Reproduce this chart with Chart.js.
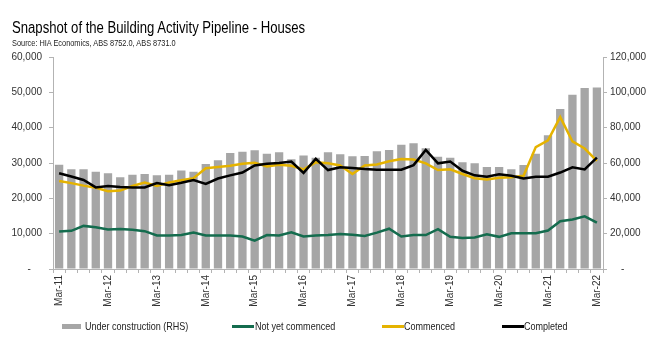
<!DOCTYPE html>
<html>
<head>
<meta charset="utf-8">
<script src="https://cdn.jsdelivr.net/npm/chart.js@4/dist/chart.umd.min.js"></script>
<style>
  html, body { margin: 0; padding: 0; background: #fff; }
  #wrap {
    position: relative; width: 660px; height: 348px; overflow: hidden;
    font-family: "Liberation Sans", Arial, sans-serif;
    color: #000;
  }
  #chart { position: absolute; left: 0; top: 0; }
  .txt, .leg { position: absolute; white-space: nowrap; transform: scaleX(0.82); transform-origin: 0 50%; }
  #title { left: 12px; top: 18px; font-size: 16px; line-height: 20px; }
  #source { left: 12px; top: 38px; font-size: 9px; line-height: 11px; color: #222; }
  .leg { top: 319px; height: 14px; font-size: 11px; line-height: 14px; color: #222; }
  .sw { position: absolute; }
</style>
</head>
<body>
<div id="wrap">
  <canvas id="chart" width="660" height="348"></canvas>
  <div id="title" class="txt">Snapshot of the Building Activity Pipeline - Houses</div>
  <div id="source" class="txt">Source: HIA Economics, ABS 8752.0, ABS 8731.0</div>
  <div class="sw" style="left:62px;top:324px;width:19px;height:5px;background:#a6a6a6"></div>
  <div class="leg" style="left:85px">Under construction (RHS)</div>
  <div class="sw" style="left:232px;top:325px;width:22px;height:2.5px;background:#146c4e"></div>
  <div class="leg" style="left:255px">Not yet commenced</div>
  <div class="sw" style="left:382px;top:325px;width:22px;height:2.5px;background:#e5b300"></div>
  <div class="leg" style="left:404px">Commenced</div>
  <div class="sw" style="left:502px;top:325px;width:22px;height:2.5px;background:#000"></div>
  <div class="leg" style="left:524px">Completed</div>
</div>
<script>
// Quarterly periods, Mar-11 to Mar-22
const quarters = [
  'Mar-11','Jun-11','Sep-11','Dec-11','Mar-12','Jun-12','Sep-12','Dec-12',
  'Mar-13','Jun-13','Sep-13','Dec-13','Mar-14','Jun-14','Sep-14','Dec-14',
  'Mar-15','Jun-15','Sep-15','Dec-15','Mar-16','Jun-16','Sep-16','Dec-16',
  'Mar-17','Jun-17','Sep-17','Dec-17','Mar-18','Jun-18','Sep-18','Dec-18',
  'Mar-19','Jun-19','Sep-19','Dec-19','Mar-20','Jun-20','Sep-20','Dec-20',
  'Mar-21','Jun-21','Sep-21','Dec-21','Mar-22'
];

// Houses under construction (right-hand axis)
const underConstruction = [
  59000, 56500, 56500, 55000, 54200, 52000, 53400, 53800, 53000, 53400,
  55700, 55000, 59500, 61600, 65700, 66300, 67200, 65200, 66100, 62100,
  64200, 63000, 66100, 65000, 63800, 64000, 66700, 67400, 70400, 71200,
  68400, 63600, 63000, 60400, 59900, 57800, 57800, 56500, 58900, 65300,
  75700, 90500, 98600, 102400, 102700
];

// Approved but not yet commenced (left-hand axis)
const notYetCommenced = [
  10600, 10800, 12200, 11800, 11200, 11300, 11100, 10700, 9500, 9500,
  9600, 10300, 9500, 9500, 9450, 9200, 8000, 9600, 9500, 10400,
  9200, 9450, 9600, 9900, 9700, 9350, 10300, 11400, 9200, 9600,
  9600, 11300, 9100, 8800, 8900, 9800, 9100, 10100, 10100, 10100,
  10900, 13500, 14000, 14900, 13100
];

// Commencements (left-hand axis)
const commenced = [
  24900, 24300, 23600, 23000, 22000, 22200, 23500, 24500, 23500, 24500,
  25100, 25700, 28500, 28900, 29200, 29800, 30100, 29000, 29500, 29200,
  28200, 30200, 29900, 29300, 26900, 29300, 29600, 30500, 31100, 31000,
  29900, 28000, 28200, 26900, 25700, 25300, 25800, 26000, 26400, 34500,
  36400, 43000, 36100, 34100, 30600
];

// Completions (left-hand axis)
const completed = [
  27100, 26200, 25200, 23100, 23500, 23200, 23100, 23100, 24300, 23700,
  24400, 25200, 24100, 25600, 26500, 27300, 29300, 29800, 30000, 30400,
  27200, 31200, 28000, 28800, 28600, 28300, 28100, 28100, 28100, 29400,
  33700, 29900, 30400, 27800, 26500, 26100, 26800, 26400, 25600, 26100,
  26100, 27300, 28800, 28200, 31500
];

const FONT = '"Liberation Sans", Arial, sans-serif';
const AXIS = '#b3b3b3';
// accounting-style labels: zero shown as a dash, inset from the axis
const fmtLeft = v => v === 0 ? '-    ' : v.toLocaleString('en-US');
const fmtRight = v => v === 0 ? '    -' : v.toLocaleString('en-US');

new Chart(document.getElementById('chart'), {
  type: 'bar',
  data: {
    labels: quarters,
    datasets: [
      {
        type: 'bar', label: 'Under construction (RHS)', data: underConstruction,
        yAxisID: 'y1', backgroundColor: '#a6a6a6', borderWidth: 0,
        barPercentage: 0.68, categoryPercentage: 1, order: 4
      },
      {
        type: 'line', label: 'Not yet commenced', data: notYetCommenced,
        yAxisID: 'y', borderColor: '#146c4e', borderWidth: 2.5,
        pointRadius: 0, tension: 0, fill: false, order: 3
      },
      {
        type: 'line', label: 'Commenced', data: commenced,
        yAxisID: 'y', borderColor: '#e5b300', borderWidth: 2.5,
        pointRadius: 0, tension: 0, fill: false, order: 2
      },
      {
        type: 'line', label: 'Completed', data: completed,
        yAxisID: 'y', borderColor: '#000000', borderWidth: 2.5,
        pointRadius: 0, tension: 0, fill: false, order: 1
      }
    ]
  },
  options: {
    responsive: false,
    animation: false,
    devicePixelRatio: 1,
    layout: { padding: { top: 57, left: 0, right: 0, bottom: 0 } },
    plugins: { legend: { display: false }, tooltip: { enabled: false } },
    scales: {
      x: {
        offset: true,
        grid: { display: true, drawOnChartArea: false, drawTicks: true, tickLength: 4, color: AXIS, offset: true },
        border: { display: true, color: AXIS },
        ticks: {
          autoSkip: false, maxRotation: 90, minRotation: 90, padding: 2,
          color: '#333', font: { family: FONT, size: 10 },
          callback: function (v, i) { const l = quarters[i]; return l.startsWith('Mar') ? l : ''; }
        },
        afterFit: s => { s.height = 79; }
      },
      y: {
        position: 'left', min: 0, max: 60000,
        grid: { display: true, drawOnChartArea: false, drawTicks: true, tickLength: 4, color: AXIS },
        border: { display: true, color: AXIS },
        ticks: { stepSize: 10000, padding: 7, color: '#333', font: { family: FONT, size: 10 }, callback: fmtLeft },
        afterFit: s => { s.width = 53; }
      },
      y1: {
        position: 'right', min: 0, max: 120000,
        grid: { display: true, drawOnChartArea: false, drawTicks: true, tickLength: 4, color: AXIS },
        border: { display: true, color: AXIS },
        ticks: { stepSize: 20000, padding: 3, color: '#333', font: { family: FONT, size: 10 }, callback: fmtRight },
        afterFit: s => { s.width = 57; }
      }
    }
  }
});
</script>
</body>
</html>
